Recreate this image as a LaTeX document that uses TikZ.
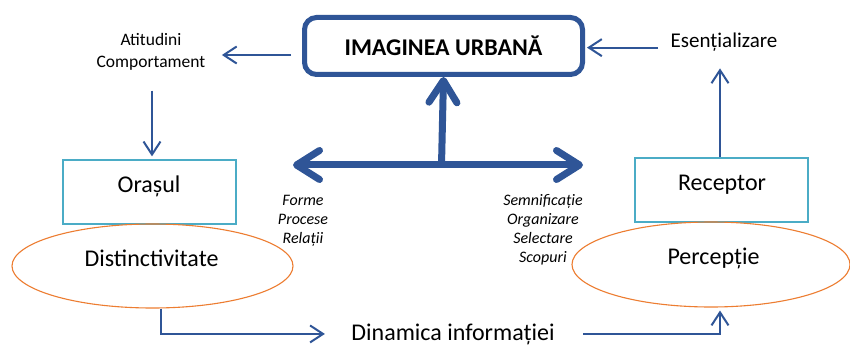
\documentclass[tikz,border=0pt]{standalone}
\usepackage{fontspec}
\setmainfont{Carlito}
\usetikzlibrary{arrows.meta,shapes.geometric,calc}
\definecolor{dblue}{RGB}{47,85,151}
\definecolor{boxteal}{RGB}{75,172,198}
\definecolor{orng}{RGB}{237,125,49}
\begin{document}
\begin{tikzpicture}[x=1pt,y=-1pt,
  sarrow/.style={draw=dblue,line width=2pt,-{Straight Barb[length=13pt,width=17pt]}},
  bigarrow/.style={draw=dblue,line width=7pt,line cap=round,{Straight Barb[length=23pt,width=29pt,round]}-{Straight Barb[length=23pt,width=29pt,round]}},
  bigup/.style={draw=dblue,line width=7pt,-{Straight Barb[length=22pt,width=28pt,round]}},
  tealbox/.style={draw=boxteal,line width=1.3pt,minimum width=173pt,minimum height=64pt},
  oval/.style={ellipse,draw=orng,line width=1.1pt,inner sep=0pt},
  big/.style={font=\fontsize{24}{29}\selectfont},
  ital/.style={font=\itshape\fontsize{16}{19}\selectfont,align=center}]
\useasboundingbox (0,0) rectangle (850,347);
\fill[white] (0,0) rectangle (850,347);

% main box
\node[draw=dblue,line width=5pt,rounded corners=12pt,minimum width=278pt,minimum height=57pt,
      font=\bfseries\fontsize{24}{29}\selectfont] (img) at (443.5,46) {IMAGINEA URBANĂ};

% left column
\node[font=\fontsize{17.5}{22}\selectfont,align=center] (att) at (151,51.5) {Atitudini\\Comportament};
\node[tealbox] (ora) at (149.5,192) {};
\node[big,anchor=base] (oratxt) at (149,193) {Orașul};
\node[oval,minimum width=281pt,minimum height=84pt] (dis) at (152.5,266) {};
\node[big,anchor=base] (distxt) at (151.5,266) {Distinctivitate};

% right column
\node[font=\fontsize{21}{25}\selectfont,anchor=base] (ess) at (724,48) {Esențializare};
\node[tealbox] (rec) at (721.5,190) {};
\node[big,anchor=base] (rectxt) at (722,191) {Receptor};
\node[oval,minimum width=278pt,minimum height=85pt] (per) at (711,264.5) {};
\node[big,anchor=base] (pertxt) at (713.5,264) {Percepție};

% bottom
\node[big,anchor=base] (dyn) at (453,340) {Dinamica informației};

% italic labels
\node[ital] (fpr) at (303,220.5) {Forme\\Procese\\Relații};
\node[ital] (sos) at (543,229.5) {Semnificație\\Organizare\\Selectare\\Scopuri};

% thick arrows
\coordinate (hub) at (441.5,165);
\coordinate (hl) at (293,165);
\coordinate (hr) at (583,165);
\draw[bigarrow] (hl) -- (hr);
\draw[bigup] (hub) -- (img.south);

% thin arrows
\draw[sarrow] ([xshift=-11pt,yshift=-9pt]img.west) -- ([yshift=-9pt]img.west -| {$(att.east)+(13,0)$});
\draw[sarrow,shorten <=17pt,shorten >=3pt] ([xshift=1pt]att.south) -- ([xshift=1pt]att.south |- ora.north);
\draw[sarrow] ([xshift=8.5pt]dis.south) |- ([xshift=-23pt]dyn.west);
\draw[sarrow,shorten >=3pt] ([xshift=25pt]dyn.east) -| ([xshift=9pt]per.south);
\draw[sarrow,shorten >=13pt] ([xshift=-1.5pt]rec.north) -- ([xshift=-1.5pt]rec.north |- ess.south);
\draw[sarrow,shorten >=2pt] ([xshift=-9pt,yshift=-5pt]ess.west) -- ([yshift=-5pt]ess.west -| img.east);
\end{tikzpicture}
\end{document}
